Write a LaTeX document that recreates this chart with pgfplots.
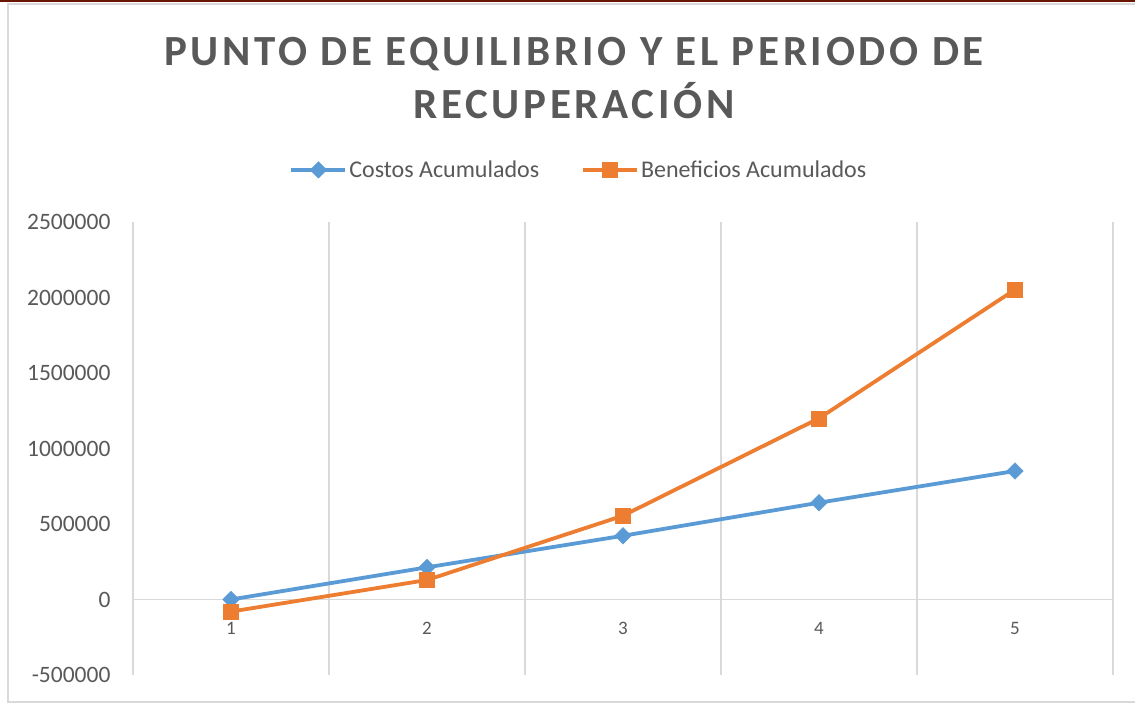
\documentclass[border=0pt]{standalone}
\usepackage{fontspec}
\setmainfont{Carlito}
\newfontfamily\titlefont[LetterSpace=8.5]{Carlito}
\usepackage{pgfplots}
\pgfplotsset{compat=1.18}
\definecolor{cblue}{HTML}{5B9BD5}
\definecolor{corange}{HTML}{ED7D31}
\definecolor{txt}{HTML}{595959}
\definecolor{gridc}{HTML}{D9D9D9}
\definecolor{topred}{HTML}{6B1400}
\begin{document}
\begin{tikzpicture}[x=1pt,y=1pt]
\path[use as bounding box] (0,0) rectangle (1135,704);
\fill[white] (0,0) rectangle (1135,704);
\draw[gridc, line width=1.2pt] (8,2) rectangle (1145,700);
\fill[topred] (0,701.5) rectangle (1135,704);
\node[anchor=base, text=txt, font=\titlefont\bfseries\fontsize{43}{52}\selectfont] at (574,638) {PUNTO DE EQUILIBRIO Y EL PERIODO DE};
\node[anchor=base, text=txt, font=\titlefont\bfseries\fontsize{43}{52}\selectfont] at (574,585) {RECUPERACIÓN};
\begin{axis}[
  at={(133pt,29pt)}, anchor=south west, scale only axis,
  width=980pt, height=453pt,
  xmin=0.5, xmax=5.5, ymin=-500000, ymax=2500000,
  scaled y ticks=false,
  axis line style={draw=none},
  major tick length=0pt,
  xtick={1,2,3,4,5},
  xticklabels={1,2,3,4,5},
  xticklabel style={anchor=center, yshift=47pt, font=\fontsize{19}{22}\selectfont, text=txt},
  ytick={-500000,0,500000,1000000,1500000,2000000,2500000},
  yticklabels={-500000,0,500000,1000000,1500000,2000000,2500000},
  yticklabel style={anchor=east, xshift=-19pt, font=\fontsize{23.5}{26}\selectfont, text=txt},
  extra x ticks={0.5,1.5,2.5,3.5,4.5,5.5},
  extra x tick labels={},
  extra x tick style={grid=major, major grid style={gridc, line width=1.3pt}},
  extra y ticks={0},
  extra y tick labels={},
  extra y tick style={grid=major, major grid style={gridc, line width=1.3pt}},
  clip=false,
  legend columns=2,
  legend style={at={(0.455,1.115)}, anchor=center, draw=none, fill=none,
    font=\fontsize{24}{28}\selectfont, text=txt,
    /tikz/every even column/.append style={column sep=40pt}},
  legend image code/.code={\draw[mark repeat=2,mark phase=2,#1] plot coordinates {(0pt,0pt) (27pt,0pt) (54pt,0pt)};},
]
\addplot[cblue, line width=3.8pt, mark=square*, mark size=5.8pt,
  mark options={rotate=45, fill=cblue, draw=cblue, line width=0.5pt}]
  coordinates {(1,0) (2,213000) (3,422000) (4,641000) (5,851000)};
\addlegendentry{Costos Acumulados}
\addplot[corange, line width=3.8pt, mark=square*, mark size=7.5pt,
  mark options={fill=corange, draw=corange, line width=0.5pt}]
  coordinates {(1,-80000) (2,129000) (3,555000) (4,1200000) (5,2052000)};
\addlegendentry{Beneficios Acumulados}
\end{axis}
\end{tikzpicture}
\end{document}
